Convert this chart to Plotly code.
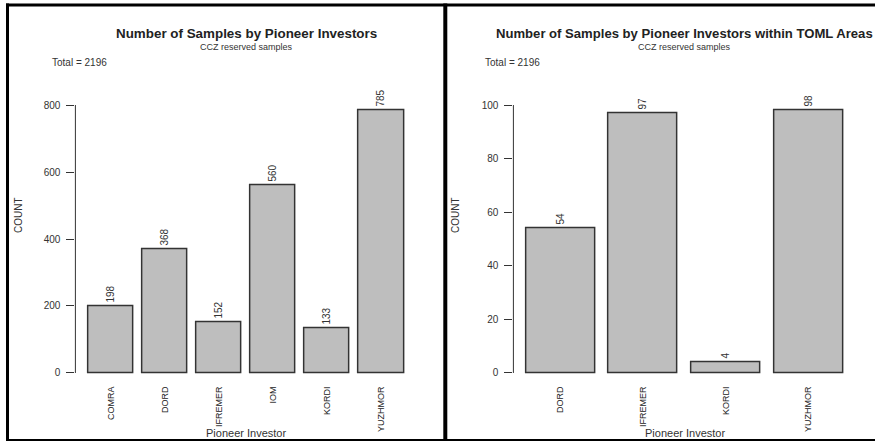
import plotly.graph_objects as go

# ---------------- data ----------------
investors_all = ["COMRA", "DORD", "IFREMER", "IOM", "KORDI", "YUZHMOR"]
counts_all = [198, 368, 152, 560, 133, 785]

investors_toml = ["DORD", "IFREMER", "KORDI", "YUZHMOR"]
counts_toml = [54, 97, 4, 98]

title_left = "Number of Samples by Pioneer Investors"
title_right = "Number of Samples by Pioneer Investors within TOML Areas"
subtitle = "CCZ reserved samples"
total_text = "Total = 2196"
y_title = "COUNT"
x_title = "Pioneer Investor"

yticks_left = [0, 200, 400, 600, 800]
yticks_right = [0, 20, 40, 60, 80, 100]

# ---------------- layout helpers ----------------
W, H = 875, 441
FONT = "Liberation Sans, Arial, sans-serif"
BAR_FILL = "#BEBEBE"
EDGE = "#333333"
TXT = "#333333"


def fx(p):
    return p / W


def fy(p):
    return 1 - p / H


plot_top_px, plot_bot_px = 94.3, 383.7
left_dom = [fx(75.4), fx(416.6)]
right_dom = [fx(513.4), fx(855.6)]

fig = go.Figure()

fig.add_trace(go.Bar(
    x=investors_all, y=counts_all, width=1 / 1.2,
    marker=dict(color=BAR_FILL, line=dict(color=EDGE, width=1.5)),
    text=[str(v) for v in counts_all], textposition="outside", textangle=-90,
    constraintext="none", cliponaxis=False,
    outsidetextfont=dict(family=FONT, size=10, color=TXT),
    xaxis="x", yaxis="y", showlegend=False, hoverinfo="skip",
))
fig.add_trace(go.Bar(
    x=investors_toml, y=counts_toml, width=1 / 1.2,
    marker=dict(color=BAR_FILL, line=dict(color=EDGE, width=1.5)),
    text=[str(v) for v in counts_toml], textposition="outside", textangle=-90,
    constraintext="none", cliponaxis=False,
    outsidetextfont=dict(family=FONT, size=10, color=TXT),
    xaxis="x2", yaxis="y2", showlegend=False, hoverinfo="skip",
))

xcommon = dict(showgrid=False, zeroline=False, showline=False, ticks="",
               tickangle=-90, tickfont=dict(family=FONT, size=9, color="#222222"),
               fixedrange=True)
ycommon = dict(showgrid=False, zeroline=False, showline=False, ticks="outside",
               ticklen=8, tickwidth=1, tickcolor=EDGE,
               tickfont=dict(family=FONT, size=10, color=TXT),
               ticklabelstandoff=4, domain=[fy(plot_bot_px), fy(plot_top_px)],
               fixedrange=True)

fig.update_layout(
    width=W, height=H, autosize=False,
    margin=dict(l=0, r=0, t=0, b=0, pad=0),
    paper_bgcolor="white", plot_bgcolor="white",
    font=dict(family=FONT, color=TXT),
    bargap=0,
    xaxis=dict(domain=left_dom, range=[-0.65, len(investors_all) - 1 + 0.65], anchor="y", **xcommon),
    xaxis2=dict(domain=right_dom, range=[-0.57, len(investors_toml) - 1 + 0.57], anchor="y2", **xcommon),
    yaxis=dict(range=[-32, 832], tickvals=yticks_left, anchor="x", **ycommon),
    yaxis2=dict(range=[-4, 104], tickvals=yticks_right, anchor="x2", **ycommon),
)

# axis lines spanning only first to last tick (R style)
fig.add_shape(type="line", xref="x domain", yref="y", x0=0, x1=0,
              y0=yticks_left[0], y1=yticks_left[-1], line=dict(color=EDGE, width=1))
fig.add_shape(type="line", xref="x2 domain", yref="y2", x0=0, x1=0,
              y0=yticks_right[0], y1=yticks_right[-1], line=dict(color=EDGE, width=1))

# panel frames
for (x0, y0, x1, y1, w) in [
    (6, 5, 875, 5, 3),          # top
    (7.5, 3.5, 7.5, 441, 3),    # left
    (445.3, 3.5, 445.3, 441, 4),  # divider
    (6, 440, 875, 440, 2),      # bottom
]:
    fig.add_shape(type="line", xref="paper", yref="paper",
                  x0=fx(x0), x1=fx(x1), y0=fy(y0), y1=fy(y1),
                  line=dict(color="black", width=w))

anns = []
for cx, title, title_x, title_anchor, title_size, total_x, count_x in [
    (246, title_left, 246, "center", 13.4, 50, 19),
    (684.5, title_right, 494, "left", 13.1, 483, 456),
]:
    anns.append(dict(text="<b>" + title + "</b>", x=fx(title_x), y=fy(33.5),
                     xanchor=title_anchor,
                     font=dict(family=FONT, size=title_size, color="#222222")))
    anns.append(dict(text=subtitle, x=fx(cx), y=fy(47),
                     font=dict(family=FONT, size=9, color=TXT)))
    anns.append(dict(text=total_text, x=fx(total_x), y=fy(63), xanchor="left",
                     font=dict(family=FONT, size=10, color=TXT)))
    anns.append(dict(text=y_title, x=fx(count_x), y=fy(215), textangle=-90,
                     font=dict(family=FONT, size=10, color=TXT)))
    anns.append(dict(text=x_title, x=fx(cx), y=fy(433),
                     font=dict(family=FONT, size=11, color=TXT)))

for a in anns:
    a.setdefault("xanchor", "center")
    a.update(xref="paper", yref="paper", yanchor="middle", showarrow=False)
fig.update_layout(annotations=anns)

fig.write_html(
    "out.html",
    config={"displayModeBar": False},
    post_script="document.body.style.margin='0px';document.body.style.padding='0px';"
                "document.body.style.overflow='hidden';",
)
